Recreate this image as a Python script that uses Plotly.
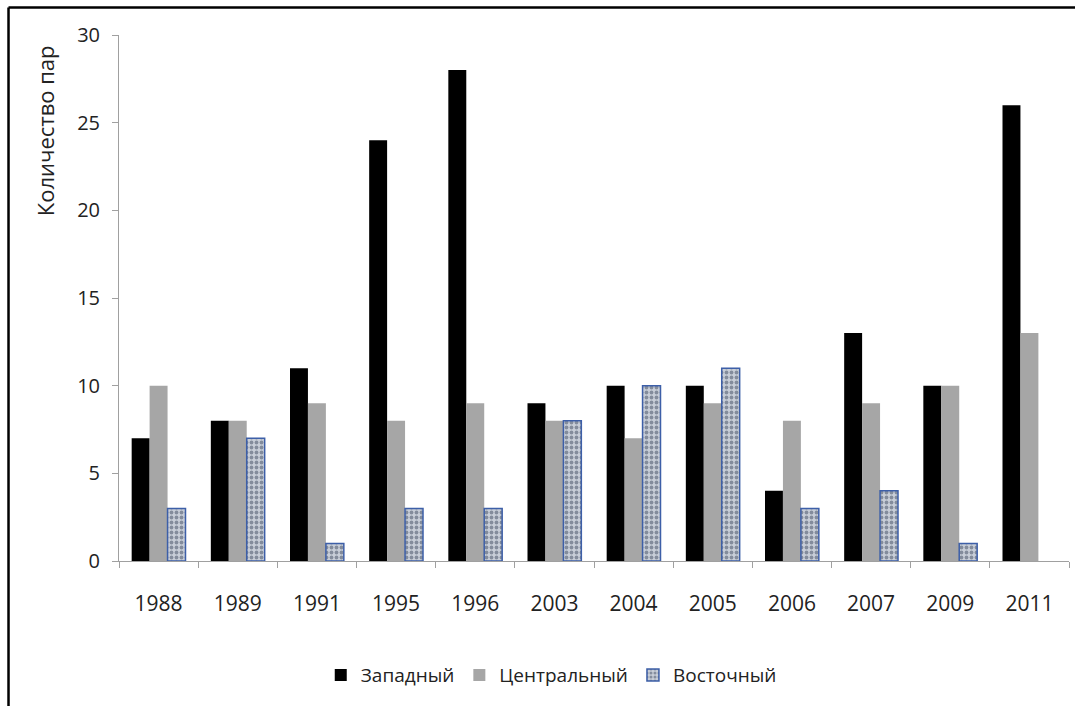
import plotly.graph_objects as go

years = ["1988", "1989", "1991", "1995", "1996", "2003", "2004", "2005", "2006", "2007", "2009", "2011"]
zapadny = [7, 8, 11, 24, 28, 9, 10, 10, 4, 13, 10, 26]
centralny = [10, 8, 9, 8, 9, 8, 7, 9, 8, 9, 10, 13]
vostochny = [3, 7, 1, 3, 3, 8, 10, 11, 3, 4, 1, None]

FONT = "Open Sans"

fig = go.Figure()
fig.add_trace(go.Bar(x=years, y=zapadny, name="Западный",
                     marker=dict(color="#000000", line=dict(width=0))))
fig.add_trace(go.Bar(x=years, y=centralny, name="Центральный",
                     marker=dict(color="#a6a6a6", line=dict(width=0))))
fig.add_trace(go.Bar(x=years, y=vostochny, name="Восточный",
                     marker=dict(color="#b4bcc8",
                                 line=dict(color="#3d5fa8", width=1.5),
                                 pattern=dict(shape=".", fgcolor="#3e4a60",
                                              bgcolor="#c8ced8", size=5,
                                              solidity=0.45))))

fig.update_layout(
    width=1075, height=706,
    margin=dict(l=119, r=6, t=35, b=145),
    paper_bgcolor="white", plot_bgcolor="white",
    barmode="group", bargap=0.32, bargroupgap=0,
    font=dict(family=FONT, color="#222222"),
    showlegend=True,
    legend=dict(orientation="h", x=0.455, xanchor="center", y=-0.217, yanchor="middle",
                font=dict(size=19, family=FONT, color="#222222"),
                itemwidth=30, traceorder="normal"),
    xaxis=dict(showline=True, linecolor="#a0a0a0", linewidth=1,
               ticks="outside", tickson="boundaries", ticklen=6, tickcolor="#a0a0a0",
               ticklabelstandoff=24,
               tickfont=dict(size=21, family=FONT, color="#222222"),
               showgrid=False, zeroline=False),
    yaxis=dict(range=[0, 30], dtick=5, showline=True, linecolor="#a0a0a0", linewidth=1,
               ticks="outside", ticklen=6, tickcolor="#a0a0a0",
               ticklabelstandoff=8,
               tickfont=dict(size=20, family=FONT, color="#222222"),
               showgrid=False, zeroline=False),
    annotations=[dict(text="Количество пар", x=-0.0779, y=0.819, xref="paper", yref="paper",
                      textangle=-90, showarrow=False, xanchor="center", yanchor="middle",
                      font=dict(size=22, family=FONT, color="#222222"))],
    shapes=[
        dict(type="line", xref="paper", yref="paper", x0=-0.1163, x1=-0.1163, y0=-0.35, y1=1.0523,
             line=dict(color="black", width=2.5)),
        dict(type="line", xref="paper", yref="paper", x0=-0.1163, x1=1.1, y0=1.0523, y1=1.0523,
             line=dict(color="black", width=2.5)),
    ],
)

fig.write_html("out.html")
